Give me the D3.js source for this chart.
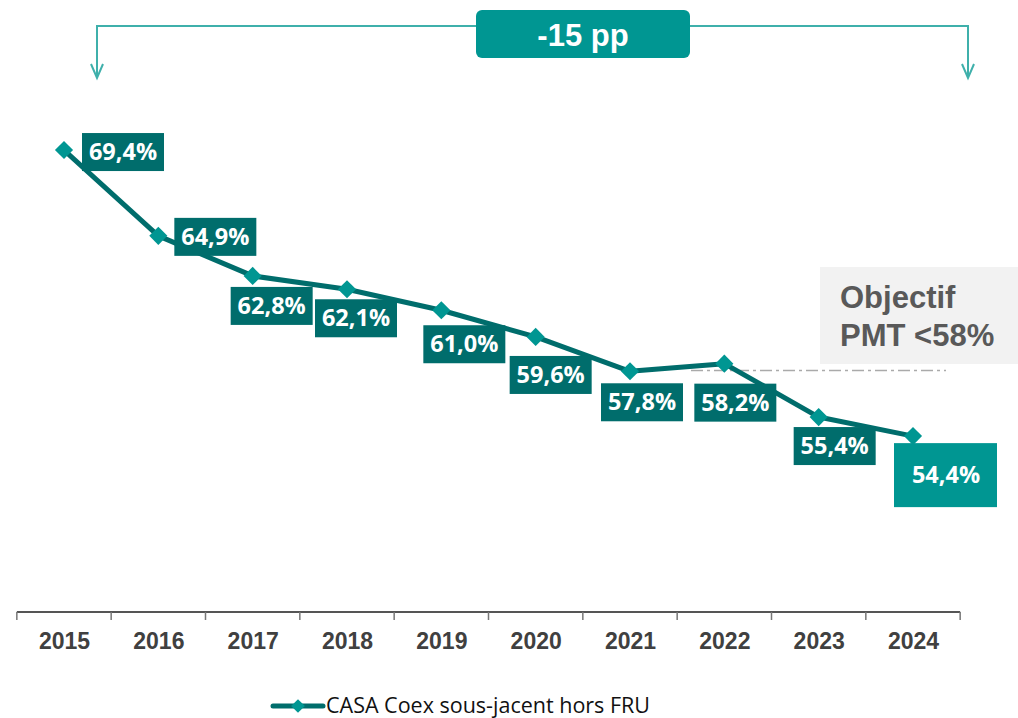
<!DOCTYPE html>
<html>
<head>
<meta charset="utf-8">
<script src="https://cdn.jsdelivr.net/npm/d3@7"></script>
<style>
  body { margin: 0; background: #fff; }
  svg { display: block; }
</style>
</head>
<body>
<svg id="chart" width="1018" height="718"></svg>
<script>
const years = ['2015', '2016', '2017', '2018', '2019', '2020', '2021', '2022', '2023', '2024'];
const ratio = [69.4, 64.9, 62.8, 62.1, 61.0, 59.6, 57.8, 58.2, 55.4, 54.4];
const objective = 58;
const seriesName = 'CASA Coex sous-jacent hors FRU';
const deltaLabel = '-15 pp';
const objectiveLines = ['Objectif', 'PMT <58%'];

const dark = '#006d6c';
const teal = '#009692';
const width = 1018;
const height = 718;

const svg = d3.select('#chart');

const x = d3.scalePoint()
  .domain(years)
  .range([64, 913]);
const y = d3.scaleLinear()
  .domain([45, 70])
  .range([615.4, 138.6]);

const step = x.step();
const axisY = 612;

// x axis: baseline + ticks between the categories
const axis = d3.axisBottom(x).tickSize(0).tickPadding(21);
const gAxis = svg.append('g')
  .attr('transform', `translate(0,${axisY})`)
  .call(axis);
gAxis.select('.domain').remove();
gAxis.selectAll('text')
  .style('font-family', '"Liberation Sans", Arial, sans-serif')
  .style('font-weight', 'bold')
  .style('font-size', '23px')
  .attr('fill', '#404040');

const edges = years.map(d => x(d) - step / 2).concat([x(years[years.length - 1]) + step / 2]);
gAxis.append('line')
  .attr('x1', edges[0]).attr('x2', edges[edges.length - 1])
  .attr('stroke', '#555').attr('stroke-width', 2);
gAxis.selectAll('.sep')
  .data(edges)
  .enter()
  .append('line')
  .attr('class', 'sep')
  .attr('x1', d => d).attr('x2', d => d)
  .attr('y1', 0).attr('y2', 8)
  .attr('stroke', '#777').attr('stroke-width', 1.5);

// objective box + dashed line
svg.append('line')
  .attr('x1', 691).attr('x2', 946)
  .attr('y1', y(objective) + 3).attr('y2', y(objective) + 3)
  .attr('stroke', '#aaaaaa')
  .attr('stroke-width', 1.5)
  .attr('stroke-dasharray', '12 4 3 4');

svg.append('rect')
  .attr('x', 820).attr('y', 267)
  .attr('width', 198).attr('height', 97)
  .attr('fill', '#f2f2f2');
svg.append('text')
  .attr('x', 840).attr('y', 308)
  .style('font-family', '"Liberation Sans", Arial, sans-serif')
  .style('font-weight', 'bold')
  .style('font-size', '31px')
  .attr('fill', '#595959')
  .selectAll('tspan')
  .data(objectiveLines)
  .enter()
  .append('tspan')
  .attr('x', 840)
  .attr('dy', (d, i) => i === 0 ? 0 : 38)
  .text(d => d);

// series line
const line = d3.line()
  .x((d, i) => x(years[i]))
  .y(d => y(d));
svg.append('path')
  .datum(ratio)
  .attr('d', line)
  .attr('fill', 'none')
  .attr('stroke', dark)
  .attr('stroke-width', 5)
  .attr('stroke-linejoin', 'round');

const diamond = d3.symbol().type(d3.symbolDiamond2).size(210);
svg.selectAll('.marker')
  .data(ratio)
  .enter()
  .append('path')
  .attr('class', 'marker')
  .attr('d', diamond)
  .attr('transform', (d, i) => `translate(${x(years[i])},${y(d)})`)
  .attr('fill', teal);

// value labels: box centre offset from its point
const labelPos = [
  [59, 2], [57, 1], [19, 30], [9, 29], [23, 34],
  [15, 38], [12, 31], [11, 39], [16, 29], [33, 39]
];
const fmt = v => d3.format('.1f')(v).replace('.', ',') + '%';
const labels = svg.selectAll('.lbl')
  .data(ratio)
  .enter()
  .append('g')
  .attr('class', 'lbl')
  .attr('transform', (d, i) => `translate(${x(years[i]) + labelPos[i][0]},${y(d) + labelPos[i][1]})`);
labels.append('rect')
  .attr('x', (d, i) => i === ratio.length - 1 ? -52 : -41)
  .attr('y', (d, i) => i === ratio.length - 1 ? -32 : -19)
  .attr('width', (d, i) => i === ratio.length - 1 ? 103 : 82)
  .attr('height', (d, i) => i === ratio.length - 1 ? 64 : 38)
  .attr('fill', (d, i) => i === ratio.length - 1 ? teal : dark);
labels.append('text')
  .attr('text-anchor', 'middle')
  .attr('dy', 8)
  .style('font-family', '"Open Sans", sans-serif')
  .style('font-weight', 'bold')
  .style('font-size', '23.5px')
  .attr('fill', '#fff')
  .text(d => fmt(d));

// top bracket
const bx0 = 97, bx1 = 968, by = 26;
const bracket = svg.append('g')
  .attr('fill', 'none')
  .attr('stroke', '#3fb0ab')
  .attr('stroke-width', 2);
bracket.append('path').attr('d', `M${bx0},78 V${by} H476 M690,${by} H${bx1} V78`);
[bx0, bx1].forEach(bx => {
  bracket.append('path').attr('d', `M${bx - 6},64 L${bx},78 L${bx + 6},64`);
});
svg.append('rect')
  .attr('x', 476).attr('y', 10)
  .attr('width', 214).attr('height', 48)
  .attr('rx', 6)
  .attr('fill', teal);
svg.append('text')
  .attr('x', 583).attr('y', 46)
  .attr('text-anchor', 'middle')
  .style('font-family', '"Liberation Sans", Arial, sans-serif')
  .style('font-weight', 'bold')
  .style('font-size', '31px')
  .attr('fill', '#fff')
  .text(deltaLabel);

// legend
const legend = svg.append('g').attr('transform', 'translate(273,706)');
legend.append('line')
  .attr('x1', 0).attr('x2', 50)
  .attr('stroke', dark).attr('stroke-width', 5)
  .attr('stroke-linecap', 'round');
legend.append('path')
  .attr('d', d3.symbol().type(d3.symbolDiamond2).size(120))
  .attr('transform', 'translate(25,0)')
  .attr('fill', teal);
legend.append('text')
  .attr('x', 53).attr('y', 7)
  .style('font-family', '"Open Sans", sans-serif')
  .style('font-size', '21.5px')
  .attr('fill', '#111')
  .text(seriesName);
</script>
</body>
</html>
